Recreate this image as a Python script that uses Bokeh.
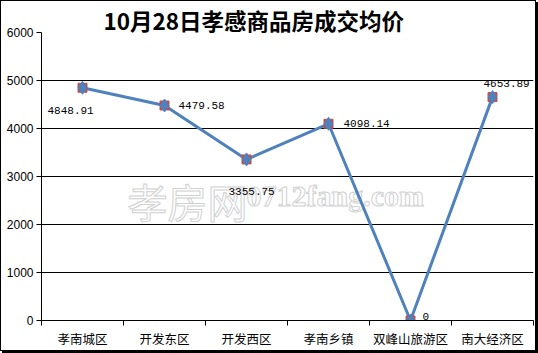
from bokeh.plotting import figure
from bokeh.models import Range1d, FixedTicker, ColumnDataSource, LabelSet
from bokeh.core.properties import value
from bokeh.embed import file_html
from bokeh.resources import INLINE

title_text = "10月28日孝感商品房成交均价"
categories = ["孝南城区", "开发东区", "开发西区", "孝南乡镇", "双峰山旅游区", "南大经济区"]
prices = [4848.91, 4479.58, 3355.75, 4098.14, 0, 4653.89]
y_ticks = [0, 1000, 2000, 3000, 4000, 5000, 6000]

# label placement (pixels), style only
label_dx = [-35, 14, -18, 15, 12, -9]
label_dy = [-23, 0, -32, 0, 4, 14]

xs = [i + 0.5 for i in range(len(categories))]
labels = ["0" if v == 0 else f"{v:.2f}" for v in prices]

src = ColumnDataSource(dict(x=xs, y=prices, t=labels, dx=label_dx, dy=label_dy))

p = figure(width=534, height=349, output_backend="svg", toolbar_location=None,
           x_range=Range1d(0, len(categories)), y_range=Range1d(0, 6000),
           min_border_left=40, min_border_right=2, min_border_top=31, min_border_bottom=26)
p.styles = {"margin": "1px 0 0 1px",
            "box-shadow": "0 0 0 1px #000, 2px 2px 0 1px #000"}

p.title.text = title_text
p.title.text_font = "Noto Sans CJK SC"
p.title.text_font_size = "22.5px"
p.title.text_font_style = "bold"
p.title.text_color = "black"
p.title.align = "left"
p.title.offset = 62
p.title.standoff = -7

p.background_fill_color = "white"
p.border_fill_color = "white"
p.outline_line_color = None

# grid
p.xgrid.visible = False
p.ygrid.grid_line_color = "black"
p.ygrid.grid_line_alpha = 1.0
p.ygrid.grid_line_width = 1
p.ygrid.ticker = FixedTicker(ticks=y_ticks)

# y axis
p.yaxis.ticker = FixedTicker(ticks=y_ticks)
p.yaxis.axis_line_color = "black"
p.yaxis.major_tick_line_color = "black"
p.yaxis.major_tick_out = 5
p.yaxis.major_tick_in = 0
p.yaxis.minor_tick_line_color = None
p.yaxis.major_label_text_font = "Liberation Sans"
p.yaxis.major_label_text_font_size = "12px"
p.yaxis.major_label_text_color = "black"
p.yaxis.major_label_standoff = 3

# x axis: labels at centers, ticks at boundaries
p.xaxis.ticker = FixedTicker(ticks=xs, minor_ticks=list(range(len(categories) + 1)))
p.xaxis.major_label_overrides = {x: c for x, c in zip(xs, categories)}
p.xaxis.major_tick_line_color = None
p.xaxis.minor_tick_line_color = "black"
p.xaxis.minor_tick_out = 5
p.xaxis.minor_tick_in = 0
p.xaxis.axis_line_color = "black"
p.xaxis.major_label_text_font = "Noto Sans CJK SC"
p.xaxis.major_label_text_font_size = "12.5px"
p.xaxis.major_label_text_color = "black"
p.xaxis.major_label_standoff = 2

# watermark
p.text(x=[1.05], y=[2500], text=["孝房网"], text_font=value("Noto Sans CJK SC"),
       text_font_size="40px", text_color="white",
       text_outline_color="#d0d0d0", text_align="left", text_baseline="middle")
p.text(x=[2.5], y=[2600], text=["0712fang.com"], text_font=value("Liberation Serif"),
       text_font_size="30px", text_font_style="bold", text_color="white",
       text_outline_color="#d0d0d0", text_align="left", text_baseline="middle")

# series
p.line("x", "y", source=src, line_color="#4f81bd", line_width=3)
p.scatter("x", "y", source=src, marker="square", size=9, fill_color="#c0504d",
          line_color="#c0504d")
p.scatter("x", "y", source=src, marker="diamond", size=13, fill_color="#4f81bd",
          line_color="#4f81bd")

p.add_layout(LabelSet(x="x", y="y", text="t", source=src, x_offset="dx", y_offset="dy",
                      text_font=value("Liberation Mono"), text_font_size="11px",
                      text_color="black", text_align="left", text_baseline="middle"))

open("out.html", "w").write(file_html(p, INLINE))
